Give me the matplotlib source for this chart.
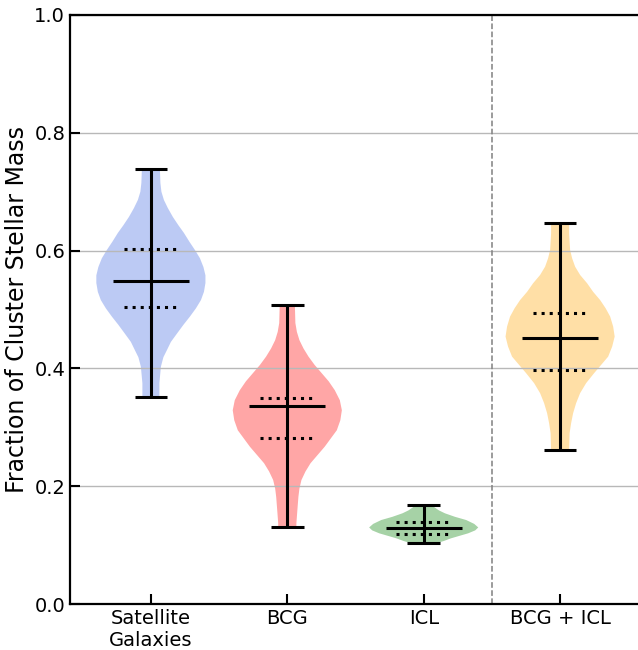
import numpy as np
import matplotlib
matplotlib.use("Agg")
import matplotlib.pyplot as plt

# categories and summary values
labels = ["Satellite\nGalaxies", "BCG", "ICL", "BCG + ICL"]
colors = ["royalblue", "red", "green", "orange"]

mins    = [0.352, 0.131, 0.103, 0.261]
maxs    = [0.739, 0.507, 0.168, 0.647]
medians = [0.548, 0.336, 0.129, 0.451]
q1s     = [0.504, 0.282, 0.118, 0.397]
q3s     = [0.603, 0.350, 0.139, 0.494]

# violin outlines: fraction values and relative density (half-width)
sat_y = [0.352, 0.375, 0.403, 0.419, 0.431, 0.445, 0.459, 0.474, 0.488,
         0.502, 0.516, 0.530, 0.545, 0.558, 0.572, 0.587, 0.601, 0.615,
         0.630, 0.643, 0.657, 0.672, 0.686, 0.700, 0.715, 0.739]
sat_d = [8.5, 8.5, 10, 12.5, 16, 20, 26, 32.5, 39, 45, 50, 53, 54.5, 54.5,
         52.5, 49, 44, 38.5, 33, 27.5, 22, 17, 13, 10.5, 9.5, 9]

bcg_y = [0.131, 0.137, 0.160, 0.182, 0.196, 0.2105, 0.225, 0.239, 0.253,
         0.267, 0.281, 0.295, 0.312, 0.329, 0.346, 0.363, 0.378, 0.392,
         0.406, 0.420, 0.434, 0.448, 0.462, 0.477, 0.507]
bcg_d = [9, 9, 10, 11, 12, 14, 18, 23, 30, 37, 43, 49, 52.5, 54, 52, 47,
         41, 34, 27, 21, 16, 12, 9.5, 8, 7.5]

icl_y = [0.103, 0.107, 0.1115, 0.116, 0.120, 0.125, 0.130, 0.136, 0.1426,
         0.148, 0.154, 0.159, 0.165, 0.168]
icl_d = [12, 20, 27, 36, 44, 51, 54, 50, 42, 31, 21, 15, 10, 9]

tot_y = [0.261, 0.290, 0.307, 0.324, 0.341, 0.358, 0.375, 0.392, 0.406,
         0.420, 0.437, 0.454, 0.471, 0.488, 0.502, 0.516, 0.530, 0.5445,
         0.5586, 0.5727, 0.587, 0.601, 0.629, 0.647]
tot_d = [9, 9.5, 11, 13, 16, 20, 26, 34, 41, 48, 52, 54.5, 53, 50, 45.5,
         40, 33, 27, 20, 15, 12, 10, 9, 9]

profiles = [(sat_y, sat_d), (bcg_y, bcg_d), (icl_y, icl_d), (tot_y, tot_d)]
positions = [1, 2, 3, 4]

fig = plt.figure(figsize=(6.38, 6.5), dpi=100)
ax = fig.add_axes([70 / 638, 46 / 650, 568 / 638, 589 / 650])

vpstats = []
for (ys, ds), lo, hi, med in zip(profiles, mins, maxs, medians):
    vpstats.append(dict(coords=np.array(ys), vals=np.array(ds, float),
                        mean=med, median=med, min=lo, max=hi))

parts = ax.violin(vpstats, positions=positions, widths=0.8,
                  showmeans=False, showextrema=False, showmedians=False)
for body, c in zip(parts["bodies"], colors):
    body.set_facecolor(c)
    body.set_edgecolor("none")
    body.set_alpha(0.35)

lw = 2.2
pos = np.array(positions)
ax.vlines(pos, mins, maxs, color="k", lw=lw, zorder=3)
ax.hlines(mins, pos - 0.12, pos + 0.12, color="k", lw=lw, zorder=3)
ax.hlines(maxs, pos - 0.12, pos + 0.12, color="k", lw=lw, zorder=3)
ax.hlines(medians, pos - 0.28, pos + 0.28, color="k", lw=lw, zorder=3)
for q in (q1s, q3s):
    ax.hlines(q, pos - 0.2, pos + 0.2, color="k", lw=lw, linestyles=":", zorder=3)

ax.axvline(3.5, color="gray", ls="--", lw=1.1)

ax.set_xlim(0.407, 4.571)
ax.set_ylim(0, 1)
ax.set_xticks(positions)
ax.set_xticklabels(labels)
ax.set_yticks([0, 0.2, 0.4, 0.6, 0.8, 1.0])
ax.set_yticklabels(["0.0", "0.2", "0.4", "0.6", "0.8", "1.0"])
ax.yaxis.grid(True, color="0.72", lw=1)
ax.tick_params(direction="in", length=7, width=1.5, labelsize=14)
ax.set_ylabel("Fraction of Cluster Stellar Mass", fontsize=17)
for sp in ax.spines.values():
    sp.set_linewidth(1.6)
ax.spines["right"].set_visible(False)

fig.savefig("out.png", dpi=100)
